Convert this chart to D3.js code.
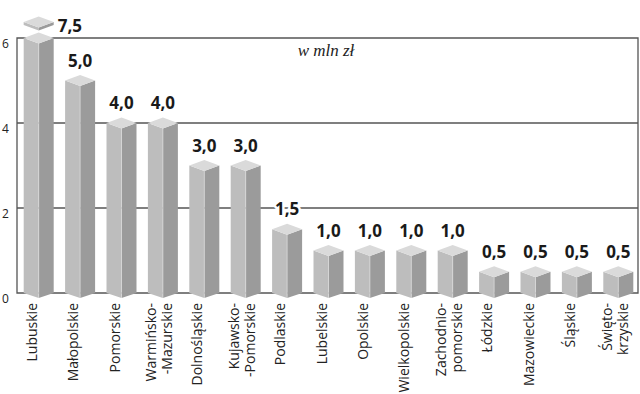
<!DOCTYPE html>
<html><head><meta charset="utf-8">
<script src="https://cdn.jsdelivr.net/npm/d3@7"></script>
<style>
html,body{margin:0;padding:0;background:#fff;}
svg{display:block;}
</style></head>
<body>
<svg id="chart" width="640" height="394"></svg>
<script>
const categories = ["Lubuskie","Małopolskie","Pomorskie","Warmińsko-\n-Mazurskie","Dolnośląskie","Kujawsko-\n-Pomorskie","Podlaskie","Lubelskie","Opolskie","Wielkopolskie","Zachodnio-\npomorskie","Łódzkie","Mazowieckie","Śląskie","Święto-\nkrzyskie"];
const values = [7.5,5.0,4.0,4.0,3.0,3.0,1.5,1.0,1.0,1.0,1.0,0.5,0.5,0.5,0.5];
const valueLabels = ["7,5","5,0","4,0","4,0","3,0","3,0","1,5","1,0","1,0","1,0","1,0","0,5","0,5","0,5","0,5"];
const yTicks = [0,2,4,6];
const unitLabel = "w mln zł";

(function(){
const svg = d3.select("#chart");
const pLeft = 17, pRight = 638, pTop = 38, pBottom = 293;
const yMax = 6;

const x = d3.scaleBand().domain(d3.range(categories.length)).range([18, 639]).padding(0);
const y = d3.scaleLinear().domain([0, yMax]).range([pBottom, pTop]);

const hw = 15, dh = 5.5, drop = 5;

svg.append("g").selectAll("line").data([2,4]).join("line")
  .attr("x1", pLeft).attr("x2", pRight)
  .attr("y1", d => y(d)).attr("y2", d => y(d))
  .attr("stroke", "#555").attr("stroke-width", 1.3);

svg.append("path")
  .attr("d", `M${pLeft},${y(0)} L${pLeft},${y(yMax)} L${pRight},${y(yMax)} L${pRight},${y(0)} Z`)
  .attr("fill", "none").attr("stroke", "#555").attr("stroke-width", 1.3);

svg.append("g").selectAll("text").data(yTicks).join("text")
  .attr("x", 2).attr("y", d => y(d) + 9.5)
  .attr("font-family", "Open Sans, sans-serif").attr("font-size", 12)
  .attr("fill", "#222").text(d => d);

const bars = svg.append("g").selectAll("g").data(values).join("g");
bars.each(function(v, i) {
  const g = d3.select(this);
  const cx = x(i) + x.bandwidth() / 2;
  const yv = y(Math.min(v, yMax));
  const yb = y(0);
  g.append("path").attr("d", `M${cx-hw},${yv} L${cx},${yv+dh} L${cx},${yb+drop} L${cx-hw},${yb} Z`)
    .attr("fill", "#bdbdbd");
  g.append("path").attr("d", `M${cx},${yv+dh} L${cx+hw},${yv} L${cx+hw},${yb} L${cx},${yb+drop} Z`)
    .attr("fill", "#9b9b9b");
  g.append("path").attr("d", `M${cx},${yv-dh} L${cx+hw},${yv} L${cx},${yv+dh} L${cx-hw},${yv} Z`)
    .attr("fill", "#dadada");
  g.append("line").attr("x1", cx).attr("x2", cx).attr("y1", yv+dh).attr("y2", yb+drop)
    .attr("stroke", "#e6e6e6").attr("stroke-width", 0.6);

  if (v > yMax) {
    const yc = y(yMax) - 16, th = 3;
    g.append("path").attr("d", `M${cx-hw},${yc} L${cx},${yc+dh} L${cx},${yc+dh+th} L${cx-hw},${yc+th} Z`).attr("fill", "#bdbdbd");
    g.append("path").attr("d", `M${cx},${yc+dh} L${cx+hw},${yc} L${cx+hw},${yc+th} L${cx},${yc+dh+th} Z`).attr("fill", "#9b9b9b");
    g.append("path").attr("d", `M${cx},${yc-dh} L${cx+hw},${yc} L${cx},${yc+dh} L${cx-hw},${yc} Z`).attr("fill", "#dadada");
    g.append("text").attr("x", cx + hw + 4).attr("y", yc + 10)
      .attr("font-family", "Open Sans, sans-serif").attr("font-weight", 700).attr("font-size", 17)
      .attr("fill", "#1a1a1a").text(valueLabels[i]);
  } else {
    g.append("text").attr("x", cx).attr("y", yv - 14)
      .attr("text-anchor", "middle")
      .attr("font-family", "Open Sans, sans-serif").attr("font-weight", 700).attr("font-size", 17)
      .attr("fill", "#1a1a1a")
      .attr("stroke", "#fff").attr("stroke-width", 5).attr("paint-order", "stroke")
      .text(valueLabels[i]);
  }
});

const cat = svg.append("g").selectAll("g").data(categories).join("g");
cat.each(function(c, i) {
  const cx = x(i) + x.bandwidth() / 2;
  const lines = c.split("\n");
  const offs = lines.length === 1 ? [-2] : [-6.5, 9.5];
  lines.forEach((ln, j) => {
    d3.select(this).append("text")
      .attr("transform", `translate(${cx + offs[j]},303) rotate(-90)`)
      .attr("text-anchor", "end")
      .attr("font-family", "Open Sans, sans-serif").attr("font-size", 14)
      .attr("fill", "#222").text(ln);
  });
});

svg.append("text").attr("x", 326).attr("y", 56).attr("text-anchor", "middle")
  .attr("font-family", "Liberation Serif, serif").attr("font-style", "italic").attr("font-size", 17)
  .attr("fill", "#222").text(unitLabel);
})();
</script>
</body></html>
